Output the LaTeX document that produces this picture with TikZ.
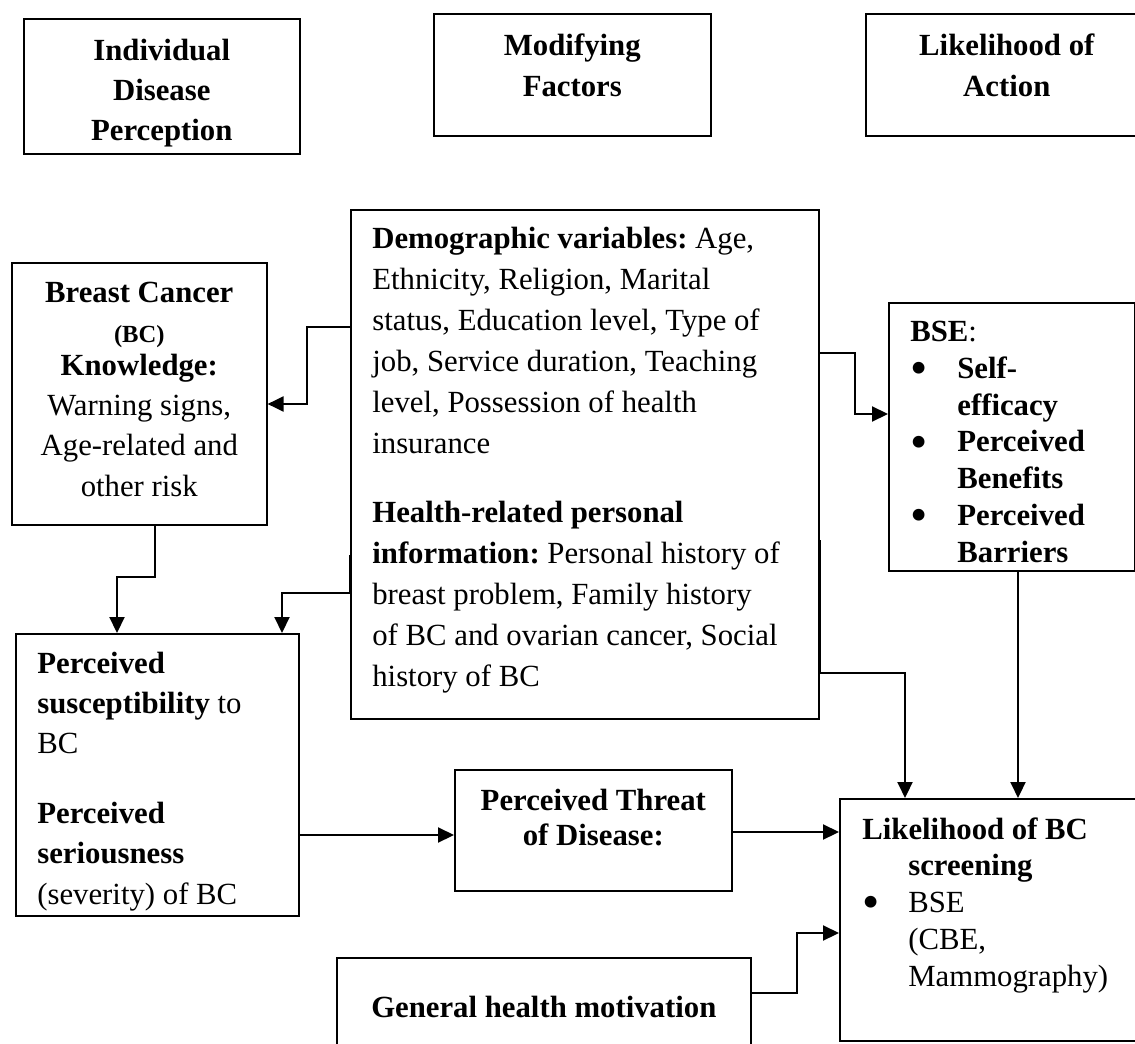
\documentclass[tikz,border=0pt]{standalone}
\usepackage{fontspec}
\setmainfont{Liberation Serif}
\usetikzlibrary{arrows.meta,positioning}
\newcommand{\boxfont}{\fontsize{17.5}{22.8}\selectfont}
\newcommand{\listfont}{\fontsize{17.5}{21}\selectfont}
\newcommand{\bigdot}{\raisebox{-3.5pt}{\fontsize{28}{28}\selectfont\textbullet}}
\frenchspacing

\begin{document}
\begin{tikzpicture}[
    box/.style={draw, line width=0.9pt, anchor=north west, inner sep=0pt},
    txt/.style={font=\boxfont, inner sep=0pt, align=left},
    ctxt/.style={font=\boxfont\bfseries, inner sep=0pt, align=center},
    conn/.style={line width=1.2pt, -{Triangle[length=0.32cm, width=0.30cm]}}
]
\useasboundingbox (0,0) rectangle (22.70,20.86);

% Header boxes
\node[box, minimum width=5.52cm, minimum height=2.70cm] (idp) at (0.46,20.50) {};
\node[ctxt, below=0.42cm of idp.north] (idptxt) {Individual\\Disease\\Perception};
\node[box, minimum width=5.54cm, minimum height=2.44cm] (mf) at (8.66,20.60) {};
\node[ctxt, below=0.42cm of mf.north] (mftxt) {Modifying\\Factors};
\node[box, minimum width=5.64cm, minimum height=2.44cm] (la) at (17.30,20.60) {};
\node[ctxt, below=0.42cm of la.north] (latxt) {Likelihood of\\Action};

% Knowledge
\node[box, minimum width=5.10cm, minimum height=5.24cm] (bck) at (0.22,15.62) {};
\node[ctxt, font=\boxfont, below=0.40cm of bck.north] (bcktxt) {%
    \textbf{Breast Cancer}\\
    {\fontsize{14}{15}\selectfont\textbf{(BC)}}\\[-0.14cm]
    \textbf{Knowledge:}\\
    Warning signs,\\
    Age-related and\\
    other risk};

% Modifying factors
\node[box, minimum width=9.36cm, minimum height=10.18cm] (demo) at (7.00,16.68) {};
\node[txt, font=\fontsize{17.5}{23.3}\selectfont, below right=0.36cm and 0.44cm of demo.north west] (demotxt) {%
    \textbf{Demographic variables:} Age,\\
    Ethnicity, Religion, Marital\\
    status, Education level, Type of\\
    job, Service duration, Teaching\\
    level, Possession of health\\
    insurance\\[0.56cm]
    \textbf{Health-related personal}\\
    \textbf{information:} Personal history of\\
    breast problem, Family history\\
    of BC and ovarian cancer, Social\\
    history of BC};

% BSE
\node[box, minimum width=4.91cm, minimum height=5.36cm] (bse) at (17.76,14.82) {};
\node[txt, font=\listfont, below right=0.37cm and 0.44cm of bse.north west] (bsetxt) {%
    \textbf{BSE}:\\
    \makebox[0.94cm][l]{\bigdot}\textbf{Self-}\\
    \hspace*{0.94cm}\textbf{efficacy}\\
    \makebox[0.94cm][l]{\bigdot}\textbf{Perceived}\\
    \hspace*{0.94cm}\textbf{Benefits}\\
    \makebox[0.94cm][l]{\bigdot}\textbf{Perceived}\\
    \hspace*{0.94cm}\textbf{Barriers}};

% Perceptions
\node[box, minimum width=5.66cm, minimum height=5.64cm] (ps) at (0.30,8.20) {};
\node[txt, below right=0.38cm and 0.44cm of ps.north west] (pstxt) {%
    \textbf{Perceived}\\
    \textbf{susceptibility} to\\
    BC\\[0.6cm]
    \textbf{Perceived}\\
    \textbf{seriousness}\\
    (severity) of BC};

% Threat
\node[box, minimum width=5.54cm, minimum height=2.42cm] (threat) at (9.08,5.48) {};
\node[ctxt, below=0.40cm of threat.north] (threattxt) {Perceived Threat\\[-0.1cm]of Disease:};

% Likelihood of screening
\node[box, minimum width=6.02cm, minimum height=4.84cm] (lik) at (16.78,4.90) {};
\node[txt, font=\listfont, below right=0.38cm and 0.46cm of lik.north west] (liktxt) {%
    \textbf{Likelihood of BC}\\
    \hspace*{0.92cm}\textbf{screening}\\
    \makebox[0.92cm][l]{\bigdot}BSE\\
    \hspace*{0.92cm}(CBE,\\
    \hspace*{0.92cm}Mammography)};

% Motivation
\node[box, font=\boxfont\bfseries, minimum width=8.28cm, minimum height=1.96cm] (ghm) at (6.72,1.72) {General health motivation};

% Connectors
\draw[conn] (demo.west |- 0,14.32) -| (6.14,12.78) -- (bck.east |- 0,12.78);
\draw[conn] (3.10,0 |- bck.south) |- (2.34,9.32) -- (2.34,0 |- ps.north);
\draw[conn] (demo.west |- 0,9.76) -- (demo.west |- 0,9.00) -| (5.64,0 |- ps.north);
\draw[conn] (demo.east |- 0,13.80) -| (17.10,12.58) -- (bse.west |- 0,12.58);
\draw[conn] (demo.east |- 0,10.06) -- (demo.east |- 0,7.40) -| (18.10,0 |- lik.north);
\draw[conn] (20.36,0 |- bse.south) -- (20.36,0 |- lik.north);
\draw[conn] (ps.east |- 0,4.16) -- (threat.west |- 0,4.16);
\draw[conn] (threat.east |- 0,4.22) -- (lik.west |- 0,4.22);
\draw[conn] (ghm.east |- 0,1.00) -| (15.94,2.20) -- (lik.west |- 0,2.20);
\end{tikzpicture}
\end{document}
